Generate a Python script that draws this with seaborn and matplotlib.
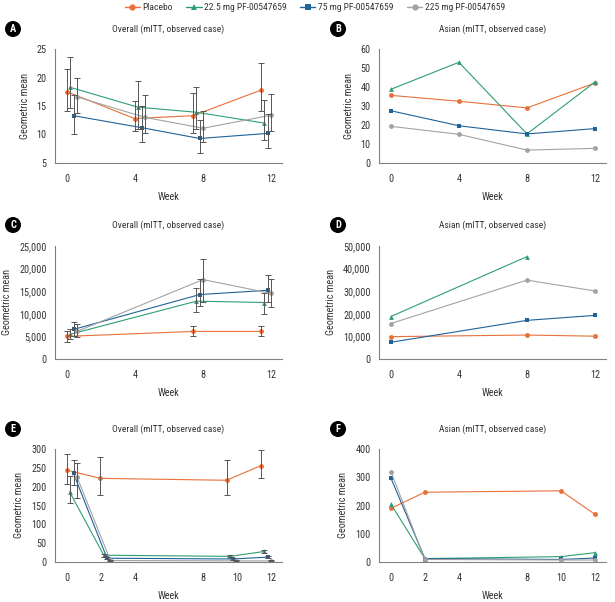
import numpy as np
import pandas as pd
import matplotlib
matplotlib.use("Agg")
import matplotlib.pyplot as plt
from matplotlib.lines import Line2D
from matplotlib.ticker import FuncFormatter
import matplotlib.font_manager as fm
import seaborn as sns

sns.set_style("white")

# pick a narrow sans-serif if one is installed
_fonts = fm.fontManager.ttflist
_names = {f.name for f in _fonts}
STRETCH = "normal"
if "Liberation Sans Narrow" in _names:
    FAM = "Liberation Sans Narrow"
elif "Roboto Condensed" in _names:
    FAM = "Roboto Condensed"
elif any(f.name == "DejaVu Sans" and str(f.stretch) in ("condensed", "semi-condensed", "300", "400") for f in _fonts):
    FAM = "DejaVu Sans"
    STRETCH = "condensed"
else:
    FAM = "Roboto"
plt.rcParams["font.family"] = [FAM, "DejaVu Sans"]
plt.rcParams["font.stretch"] = STRETCH

series = ["Placebo", "22.5 mg PF-00547659", "75 mg PF-00547659", "225 mg PF-00547659"]
colors = ["#E8703A", "#2E9E72", "#1F6399", "#A3A3A3"]
markers = ["o", "^", "s", "o"]

# Panel A - Overall (plotted week positions, dodged)
a_x = [[0, 3.98, 7.42, 11.42], [0.16, 4.17, 7.62, 11.61], [0.39, 4.40, 7.81, 11.83], [0.59, 4.60, 8.01, 12.03]]
a_y = [[17.5, 12.8, 13.3, 17.8], [18.3, 14.8, 13.9, 12.0], [13.3, 11.2, 9.3, 10.2], [16.6, 13.0, 11.1, 13.4]]
a_lo = [[14.2, 10.6, 10.2, 14.1], [14.6, 11.0, 11.0, 9.0], [10.0, 8.6, 6.8, 7.7], [13.7, 10.2, 8.6, 10.6]]
a_hi = [[21.5, 15.8, 17.2, 22.5], [23.6, 19.4, 18.4, 16.0], [17.0, 15.0, 12.5, 13.6], [19.9, 16.9, 14.2, 17.1]]

# Panel B - Asian
b_x = [[0, 4, 8, 12]] * 4
b_y = [[35.6, 32.5, 29.0, 42.1], [38.8, 53.0, 15.3, 42.6], [27.5, 19.6, 15.3, 18.1], [19.3, 15.1, 6.8, 7.7]]

# Panel C - Overall
c_x = [[0, 7.42, 11.42], [0.16, 7.62, 11.61], [0.39, 7.81, 11.83], [0.59, 8.01, 12.03]]
c_y = [[5000, 6100, 6100], [5440, 12800, 12500], [6540, 14260, 15200], [6100, 17570, 14500]]
c_lo = [[3800, 5000, 5000], [4500, 10500, 10000], [5000, 11700, 12700], [4900, 12700, 11500]]
c_hi = [[6250, 7200, 7200], [6600, 15800, 14700], [8100, 17800, 18600], [7650, 22200, 17800]]

# Panel D - Asian
d_x = [[0, 8, 12], [0, 8], [0, 8, 12], [0, 8, 12]]
d_y = [[9900, 10600, 10100], [18800, 45300], [7400, 17100, 19300], [15700, 34900, 30100]]

# Panel E - Overall
e_x = [[0, 1.97, 9.39, 11.42], [0.16, 2.17, 9.59, 11.61], [0.39, 2.36, 9.78, 11.83], [0.59, 2.56, 9.96, 12.03]]
e_y = [[244, 222, 217, 256], [186, 18, 15, 28], [235, 10, 8, 13], [226, 4, 3, 3]]
e_lo = [[207, 177, 177, 222], [157, 14, 12, 23], [204, 8, 6, 10], [171, 3, 2, 2]]
e_hi = [[288, 278, 270, 298], [227, 22, 18, 33], [271, 13, 10, 16], [262, 6, 4, 4]]

# Panel F - Asian
f_x = [[0, 2, 10, 12]] * 4
f_y = [[190, 247, 252, 169], [205, 12, 19, 33], [297, 12, 9, 14], [320, 9, 7, 7]]

titles = ["Overall (mITT, observed case)", "Asian (mITT, observed case)"]
letters = ["A", "B", "C", "D", "E", "F"]

W, H = 615, 602
fig = plt.figure(figsize=(W / 100, H / 100), dpi=100)

# scale font sizes so the title width matches the reference (~112 px)
_probe = fig.text(0, 0, titles[0], fontsize=7.3)
fig.canvas.draw()
_w = _probe.get_window_extent().width
_probe.remove()
K = min(1.0, 112.0 / _w) if _w > 0 else 1.0
FS_T = 7.3 * K       # titles / legend
FS_L = 7.8 * K       # tick labels / axis labels

def px_axes(left, top, right, bottom):
    return fig.add_axes([left / W, 1 - bottom / H, (right - left) / W, (bottom - top) / H])

panels = [
    dict(box=(55, 49, 282, 163), xs=a_x, ys=a_y, lo=a_lo, hi=a_hi, ylim=(5, 25), yt=[5, 10, 15, 20, 25], xt=[0, 4, 8, 12], title=0, comma=False),
    dict(box=(379, 49, 606, 163), xs=b_x, ys=b_y, lo=None, hi=None, ylim=(0, 60), yt=list(range(0, 61, 10)), xt=[0, 4, 8, 12], title=1, comma=False),
    dict(box=(55, 246, 282, 359), xs=c_x, ys=c_y, lo=c_lo, hi=c_hi, ylim=(0, 25000), yt=list(range(0, 25001, 5000)), xt=[0, 4, 8, 12], title=0, comma=True),
    dict(box=(379, 246, 606, 359), xs=d_x, ys=d_y, lo=None, hi=None, ylim=(0, 50000), yt=list(range(0, 50001, 10000)), xt=[0, 4, 8, 12], title=1, comma=True),
    dict(box=(55, 449, 282, 562), xs=e_x, ys=e_y, lo=e_lo, hi=e_hi, ylim=(0, 300), yt=list(range(0, 301, 50)), xt=[0, 2, 4, 8, 10, 12], title=0, comma=False),
    dict(box=(379, 449, 606, 562), xs=f_x, ys=f_y, lo=None, hi=None, ylim=(0, 400), yt=[0, 100, 200, 300, 400], xt=[0, 2, 4, 8, 10, 12], title=1, comma=False),
]
title_y = [29, 29, 225, 225, 429, 429]

pal = dict(zip(series, colors))
mk = dict(zip(series, markers))

for i, p in enumerate(panels):
    ax = px_axes(*p["box"])
    rows = []
    for s, xs, ys in zip(series, p["xs"], p["ys"]):
        for x, y in zip(xs, ys):
            rows.append((s, x, y))
    df = pd.DataFrame(rows, columns=["series", "week", "value"])
    sns.lineplot(data=df, x="week", y="value", hue="series", style="series",
                 palette=pal, markers=mk, dashes=False, estimator=None, sort=False,
                 legend=False, ax=ax, linewidth=0.8, markersize=3.5,
                 markeredgewidth=0)
    if p["lo"] is not None:
        for xs, ys, lo, hi in zip(p["xs"], p["ys"], p["lo"], p["hi"]):
            ys_ = np.array(ys); lo_ = np.array(lo); hi_ = np.array(hi)
            ax.errorbar(xs, ys_, yerr=[ys_ - lo_, hi_ - ys_], fmt="none",
                        ecolor="#555555", elinewidth=0.7, capsize=2.5, capthick=0.7, zorder=4)
    ax.set_xlim(-0.7, 12.65)
    ax.set_ylim(*p["ylim"])
    ax.set_xticks(p["xt"])
    ax.set_yticks(p["yt"])
    if p["comma"]:
        ax.yaxis.set_major_formatter(FuncFormatter(lambda v, pos: f"{int(v):,}"))
    for side in ["top", "right"]:
        ax.spines[side].set_visible(False)
    for side in ["left", "bottom"]:
        ax.spines[side].set_color("#808080")
        ax.spines[side].set_linewidth(0.8)
    ax.tick_params(axis="both", direction="out", length=3, width=0.8, color="#808080",
                   labelsize=FS_L, labelcolor="#333333", pad=3)
    ax.tick_params(axis="x", pad=5)
    ax.set_xlabel("Week", fontsize=FS_L, color="#333333", labelpad=6)
    ax.set_ylabel("Geometric mean", fontsize=FS_L, color="#333333", labelpad=5)
    ax.patch.set_alpha(0)
    left, top, right, bottom = p["box"]
    fig.text(((left + right) / 2) / W, 1 - title_y[i] / H, titles[p["title"]],
             ha="center", va="center", fontsize=FS_T, color="#333333")
    lx = 13 if i % 2 == 0 else 338
    fig.text(lx / W, 1 - title_y[i] / H, letters[i], ha="center", va="center", color="white",
             fontsize=FS_T + 0.7, fontweight="bold",
             bbox=dict(boxstyle="circle,pad=0.22", fc="black", ec="black"))

handles = [Line2D([0], [0], color=c, marker=m, markersize=4.5, linewidth=1.0, markeredgewidth=0)
           for c, m in zip(colors, markers)]
fig.legend(handles, series, loc="center", bbox_to_anchor=(315 / W, 1 - 8 / H), ncol=4, frameon=False,
           fontsize=FS_T, handlelength=1.6, handletextpad=0.3, columnspacing=1.4,
           labelcolor="#333333")

fig.savefig("out.png", dpi=100)
